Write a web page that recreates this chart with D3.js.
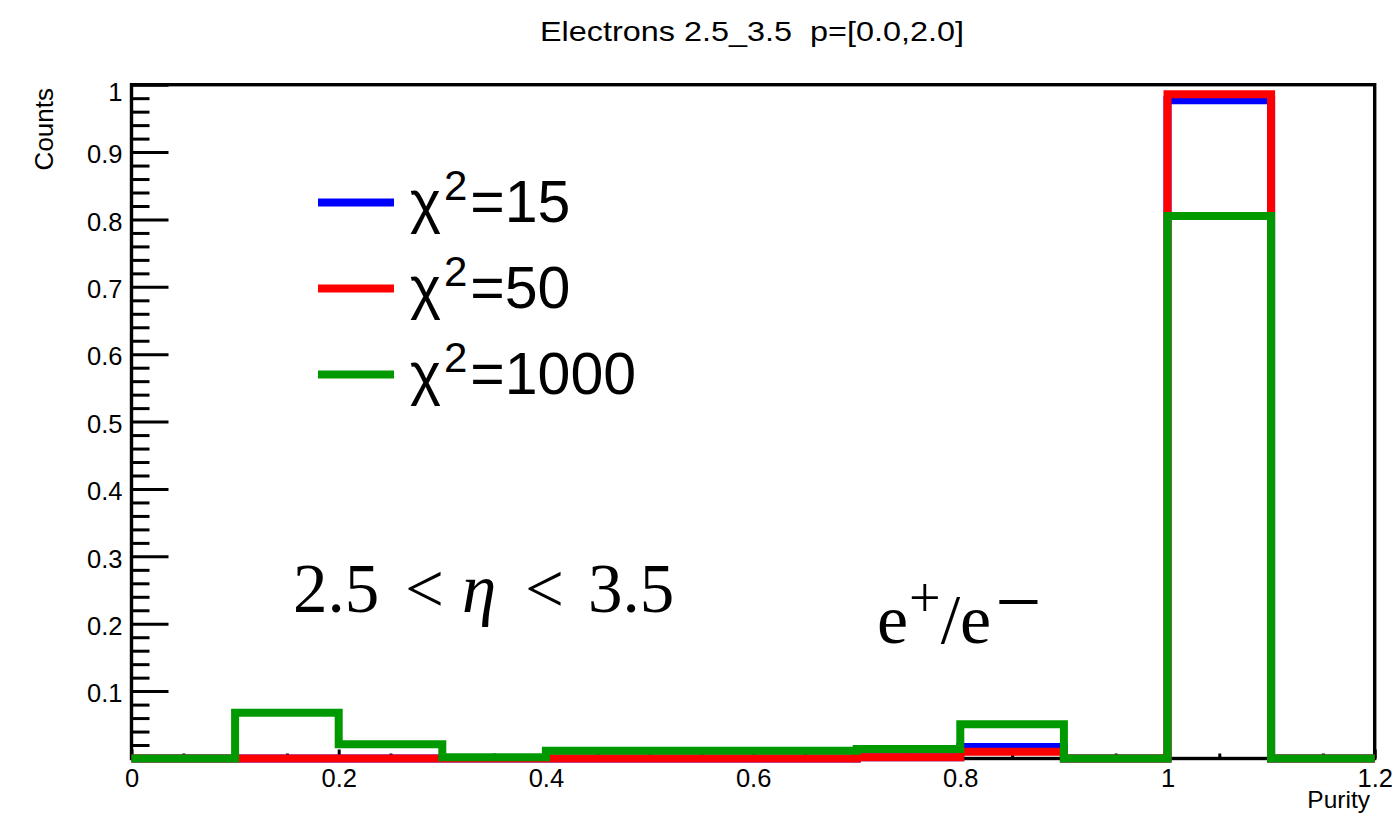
<!DOCTYPE html>
<html>
<head>
<meta charset="utf-8">
<script src="https://cdn.jsdelivr.net/npm/d3@7"></script>
<style>
  html, body { margin: 0; padding: 0; background: #ffffff; }
  svg { display: block; }
  text { font-family: "Liberation Sans", Arial, Helvetica, sans-serif; fill: #000; white-space: pre; }
  .serif { font-family: "Liberation Serif", "Times New Roman", serif; }
</style>
</head>
<body>
<div id="chart"></div>
<script>
// ---------------- data ----------------
const binLow = [0.0, 0.1, 0.2, 0.3, 0.4, 0.5, 0.6, 0.7, 0.8, 0.9, 1.0, 1.1];
const binHigh = 1.2;
const chi15   = [0, 0, 0, 0, 0, 0, 0, 0.002, 0.017, 0, 0.977, 0];
const chi50   = [0, 0, 0, 0, 0, 0, 0, 0.002, 0.010, 0, 0.986, 0];
const chi1000 = [0, 0.068, 0.021, 0.002, 0.0116, 0.0116, 0.0116, 0.014, 0.051, 0, 0.805, 0];
const seriesNames = ["\u03c7", "\u03c7", "\u03c7"];
const legendValues = ["=15", "=50", "=1000"];
const seriesColors = ["#0000ff", "#ff0000", "#009900"];
const xTickValues = [0, 0.2, 0.4, 0.6, 0.8, 1.0, 1.2];
const xTickLabels = ["0", "0.2", "0.4", "0.6", "0.8", "1", "1.2"];
const xMinorTicks = [0.05, 0.1, 0.15, 0.25, 0.3, 0.35, 0.45, 0.5, 0.55, 0.65, 0.7, 0.75, 0.85, 0.9, 0.95, 1.05, 1.1, 1.15];
const yTickValues = [0.1, 0.2, 0.3, 0.4, 0.5, 0.6, 0.7, 0.8, 0.9, 1.0];
const yTickLabels = ["0.1", "0.2", "0.3", "0.4", "0.5", "0.6", "0.7", "0.8", "0.9", "1"];
const yMinorTicks = d3.range(1, 50).map(i => i / 50).filter(v => Math.abs(v * 10 - Math.round(v * 10)) > 1e-6);
const titleText = "Electrons 2.5_3.5  p=[0.0,2.0]";
const xTitle = "Purity";
const yTitle = "Counts";
const etaParts = ["2.5", "<", "\u03b7", "<", "3.5"];

// ---------------- layout ----------------
const W = 1394, H = 826;
const svg = d3.select("#chart").append("svg").attr("width", W).attr("height", H);

const x = d3.scaleLinear().domain([0, 1.2]).range([131.5, 1374.7]);
const y = d3.scaleLinear().domain([0, 1]).range([758.5, 84.7]);

// minor y ticks
svg.append("g").attr("transform", `translate(${x(0)},0)`)
  .call(d3.axisLeft(y).tickValues(yMinorTicks).tickSize(-18).tickFormat(""))
  .call(g => g.select(".domain").remove())
  .call(g => g.selectAll("line").attr("stroke", "#000").attr("stroke-width", 3));

// major y ticks
const yAx = svg.append("g").attr("transform", `translate(${x(0)},0)`)
  .call(d3.axisLeft(y).tickValues(yTickValues).tickSize(-37).tickPadding(9)
        .tickFormat((d, i) => yTickLabels[i]))
  .call(g => g.select(".domain").remove());
yAx.selectAll("line").attr("stroke", "#000").attr("stroke-width", 3);
yAx.selectAll("text").attr("font-size", 25.5).attr("font-family", "Liberation Sans, Arial, sans-serif")
  .attr("dy", d => d === 1 ? "0.62em" : "0.42em").attr("fill", "#000");

// minor x ticks
svg.append("g").attr("transform", `translate(0,${y(0)})`)
  .call(d3.axisBottom(x).tickValues(xMinorTicks).tickSize(-5).tickFormat(""))
  .call(g => g.select(".domain").remove())
  .call(g => g.selectAll("line").attr("stroke", "#000").attr("stroke-width", 3));

// major x ticks
const xAx = svg.append("g").attr("transform", `translate(0,${y(0)})`)
  .call(d3.axisBottom(x).tickValues(xTickValues).tickSize(-9).tickPadding(10.5)
        .tickFormat((d, i) => xTickLabels[i]))
  .call(g => g.select(".domain").remove());
xAx.selectAll("line").attr("stroke", "#000").attr("stroke-width", 3);
xAx.selectAll("text").attr("font-size", 25.5).attr("font-family", "Liberation Sans, Arial, sans-serif").attr("fill", "#000");

// frame
svg.append("rect")
  .attr("x", x(0)).attr("y", y(1))
  .attr("width", x(1.2) - x(0)).attr("height", y(0) - y(1))
  .attr("fill", "none").attr("stroke", "#000").attr("stroke-width", 3.4);

// histograms
const line = d3.line().curve(d3.curveStepAfter).x(d => x(d[0])).y(d => y(d[1]));
[chi15, chi50, chi1000].forEach((vals, k) => {
  const pts = binLow.map((b, i) => [b, vals[i]]);
  pts.push([binHigh, vals[vals.length - 1]]);
  svg.append("path").datum(pts)
    .attr("d", line)
    .attr("fill", "none")
    .attr("stroke", seriesColors[k])
    .attr("stroke-width", 8)
    .attr("stroke-linejoin", "miter")
    .attr("stroke-linecap", "butt");
});

// title
svg.append("text").attr("x", 752).attr("y", 41)
  .attr("text-anchor", "middle").attr("font-size", 28)
  .attr("textLength", 424).attr("lengthAdjust", "spacingAndGlyphs")
  .text(titleText);

// axis titles
svg.append("text").attr("x", 1370).attr("y", 808).attr("text-anchor", "end")
  .attr("font-size", 24.5).text(xTitle);
svg.append("text").attr("transform", "translate(53,88) rotate(-90)")
  .attr("text-anchor", "end").attr("font-size", 26).text(yTitle);

// legend
const legY = [202.5, 288.5, 374.5];
legendValues.forEach((v, i) => {
  svg.append("line").attr("x1", 318).attr("x2", 394)
    .attr("y1", legY[i]).attr("y2", legY[i])
    .attr("stroke", seriesColors[i]).attr("stroke-width", 8);
  const t = svg.append("text").attr("x", 410).attr("y", legY[i] + 19).attr("font-size", 59);
  t.append("tspan").text(seriesNames[i]);
  t.append("tspan").attr("font-size", 42).attr("dy", -22).attr("dx", 3).text("2");
  t.append("tspan").attr("dy", 22).attr("dx", 3).text(v);
});

// annotations
const etaX = [293, 405, 462, 525, 588];
const eta = svg.append("text").attr("class", "serif").attr("y", 612).attr("font-size", 69);
etaParts.forEach((p, i) => {
  eta.append("tspan").attr("x", etaX[i])
    .attr("font-style", i === 2 ? "italic" : null).text(p);
});

const ee = svg.append("text").attr("class", "serif").attr("x", 877).attr("y", 643).attr("font-size", 70);
ee.append("tspan").text("e");
ee.append("tspan").attr("font-size", 56).attr("dy", -26).attr("dx", 1).text("+");
ee.append("tspan").attr("dy", 26).attr("dx", 0).text("/e");
ee.append("tspan").attr("font-size", 82).attr("dy", -14).attr("dx", 4).text("\u2212");
</script>
</body>
</html>
